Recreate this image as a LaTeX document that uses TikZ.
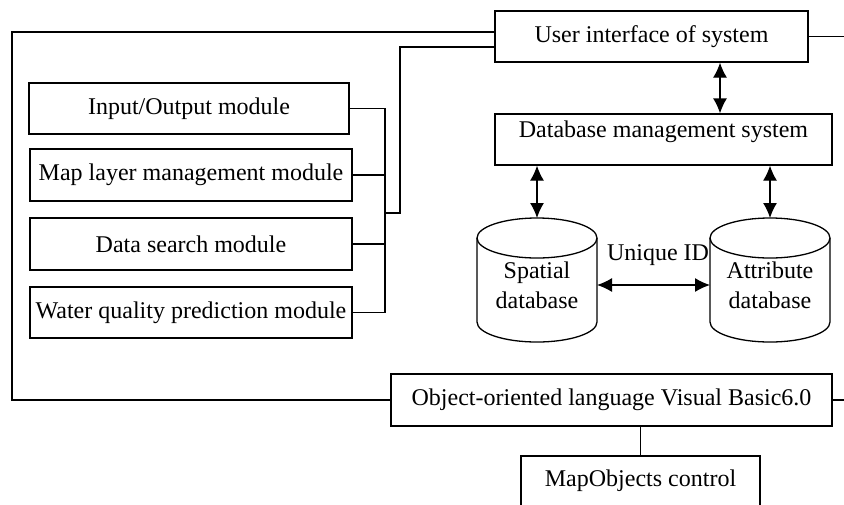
\documentclass[tikz,border=0pt]{standalone}
\usepackage{fontspec}
\setmainfont{Liberation Serif}
\usetikzlibrary{arrows.meta}
\begin{document}
\begin{tikzpicture}[x=0.5pt,y=-0.5pt,line width=0.65pt,
  every node/.style={font=\fontsize{12}{15}\selectfont},
  box/.style={draw,rectangle,inner sep=0pt,minimum height=25.5pt},
  dbl/.style={{Latex[length=7.5pt,width=7pt]}-{Latex[length=7.5pt,width=7pt]}}]
\useasboundingbox (0,0) rectangle (844,504);
\node[box,minimum width=156.5pt] (ui) at (651.5,36.5) {User interface of system};
\node[box,minimum width=168.5pt,text height=8pt,text depth=10pt] (db) at (663.5,139.5) {Database management system};
\node[box,minimum width=160pt] (io) at (189,108.5) {Input/Output module};
\node[box,minimum width=161pt,minimum height=26pt] (ml) at (191,175) {Map layer management module};
\node[box,minimum width=161pt,minimum height=26pt] (ds) at (191,244) {Data search module};
\node[box,minimum width=161pt] (wq) at (191,312.5) {Water quality prediction module};
\node[box,minimum width=220.5pt,minimum height=26pt] (ob) at (611.5,400) {Object-oriented language Visual Basic6.0};
\node[box,minimum width=119.5pt,minimum height=25pt] (mo) at (640.5,481) {MapObjects control};
\node[align=center] (sp) at (537,285) {Spatial\\database};
\node[align=center] (attr) at (770,285) {Attribute\\database};
\node (uid) at (658,255) {Unique ID};
\coordinate (br) at (385,213);
\coordinate (bj) at (400,213);
\coordinate (lc) at (12,0);
\coordinate (re) at (844,0);
\coordinate (uidb) at (720,0);
\foreach \c in {sp,attr}{
  \draw ([shift={(-30pt,23.5pt)}]\c.center) -- ([shift={(-30pt,-18.5pt)}]\c.center)
    arc[start angle=180,end angle=360,x radius=30pt,y radius=10pt] -- ([shift={(30pt,23.5pt)}]\c.center);
  \draw ([yshift=23.5pt]\c.center) ellipse [x radius=30pt,y radius=10pt];
  \draw[dbl] (db.south -| \c) -- ([yshift=33.5pt]\c.center);
}
\draw[dbl] ([xshift=30pt]sp.center) -- ([xshift=-30pt]attr.center);
\draw[dbl] (ui.south -| uidb) -- (db.north -| uidb);
\draw (io.east) -- (io.east -| br) -- (wq.east -| br) -- (wq.east);
\draw (ml.east) -- (ml.east -| br);
\draw (ds.east) -- (ds.east -| br);
\draw (br) -- (bj) |- ([yshift=-5.25pt]ui.west);
\draw ([yshift=2.25pt]ui.west) -| (ob.west -| lc) -- (ob.west);
\draw (ui.east) -- (ui.east -| re);
\draw (ob.east) -- (ob.east -| re);
\draw (mo.north) -- (mo.north |- ob.south);
\end{tikzpicture}
\end{document}
